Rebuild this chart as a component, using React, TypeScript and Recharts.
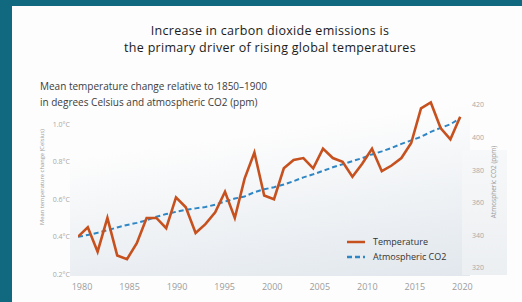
import React from "react";
import { LineChart, Line, XAxis, YAxis, Legend } from "recharts";

const years = [
  1980, 1981, 1982, 1983, 1984, 1985, 1986, 1987, 1988, 1989,
  1990, 1991, 1992, 1993, 1994, 1995, 1996, 1997, 1998, 1999,
  2000, 2001, 2002, 2003, 2004, 2005, 2006, 2007, 2008, 2009,
  2010, 2011, 2012, 2013, 2014, 2015, 2016, 2017, 2018, 2019,
];

// mean temperature change vs 1850-1900, °C
const temperature = [
  0.40, 0.45, 0.32, 0.50, 0.30, 0.28, 0.365, 0.50, 0.50, 0.445,
  0.61, 0.557, 0.42, 0.467, 0.53, 0.64, 0.50, 0.71, 0.85, 0.62,
  0.60, 0.765, 0.81, 0.82, 0.765, 0.87, 0.82, 0.80, 0.72, 0.79,
  0.87, 0.75, 0.78, 0.82, 0.90, 1.085, 1.117, 0.98, 0.92, 1.04,
];

// atmospheric CO2, ppm
const co2 = [
  339.0, 340.2, 341.5, 343.1, 344.8, 346.3, 347.6, 349.2, 351.4, 353.0,
  354.4, 355.6, 356.5, 357.3, 358.8, 360.7, 362.5, 363.8, 366.4, 368.2,
  369.5, 371.1, 373.2, 375.5, 377.4, 379.5, 381.7, 383.6, 385.5, 387.3,
  389.6, 391.5, 393.6, 396.1, 398.2, 400.4, 403.4, 405.9, 408.1, 411.8,
];

const yearTicks = [1980, 1985, 1990, 1995, 2000, 2005, 2010, 2015, 2020];
const tempTicks = [0.2, 0.4, 0.6, 0.8, 1.0];
const co2Ticks = [320, 340, 360, 380, 400, 420];

const TEMP_COLOR = "#c7511e";
const CO2_COLOR = "#2f86c4";
const FONT = "'Open Sans', 'DejaVu Sans', sans-serif";

const chartData = years.map((year, i) => ({
  year,
  temperature: temperature[i],
  co2: co2[i],
}));

function LegendBox() {
  const rows = [
    { label: "Temperature", color: TEMP_COLOR, dash: undefined },
    { label: "Atmospheric CO2", color: CO2_COLOR, dash: "5 3" },
  ];
  return (
    <div style={{ fontFamily: FONT, fontSize: 9, color: "#333" }}>
      {rows.map((r) => (
        <div
          key={r.label}
          style={{ display: "flex", alignItems: "center", height: 15 }}
        >
          <svg width={20} height={4} style={{ marginRight: 7 }}>
            <line
              x1={1}
              y1={2}
              x2={19}
              y2={2}
              stroke={r.color}
              strokeWidth={2.5}
              strokeDasharray={r.dash}
            />
          </svg>
          <span>{r.label}</span>
        </div>
      ))}
    </div>
  );
}

export default function App() {
  return (
    <div
      style={{
        position: "fixed",
        left: 0,
        top: 0,
        width: 522,
        height: 302,
        background: "#10697f",
        overflow: "hidden",
        fontFamily: FONT,
      }}
    >
      {/* white card */}
      <div
        style={{
          position: "absolute",
          left: 12,
          top: 6,
          width: 510,
          height: 296,
          background: "#fdfdfd",
        }}
      />
      {/* plot backdrop */}
      <div
        style={{
          position: "absolute",
          left: 70,
          top: 100,
          width: 400,
          height: 176,
          background:
            "linear-gradient(172deg, rgba(255,255,255,0) 25%, #e1e7ed 100%)",
        }}
      />
      <div
        style={{
          position: "absolute",
          left: 462,
          top: 150,
          width: 45,
          height: 125,
          background: "linear-gradient(to bottom, #f7f8f9, #eceff2)",
        }}
      />

      <div
        style={{
          position: "absolute",
          left: 12,
          top: 22,
          width: 516,
          textAlign: "center",
          fontSize: 12.5,
          letterSpacing: 0.3,
          lineHeight: "17px",
          fontWeight: 500,
          color: "#1b1b1b",
        }}
      >
        <div>Increase in carbon dioxide emissions is</div>
        <div>the primary driver of rising global temperatures</div>
      </div>

      <div
        style={{
          position: "absolute",
          left: 40,
          top: 78,
          fontSize: 10,
          lineHeight: "16px",
          color: "#3c3c3c",
          whiteSpace: "nowrap",
        }}
      >
        <div>Mean temperature change relative to 1850–1900</div>
        <div>in degrees Celsius and atmospheric CO2 (ppm)</div>
      </div>

      <div
        style={{
          position: "absolute",
          left: 42,
          top: 177,
          transform: "translate(-50%, -50%) rotate(-90deg)",
          fontSize: 5.8,
          color: "#9a9a9a",
          whiteSpace: "nowrap",
        }}
      >
        Mean temperature change (Celsius)
      </div>
      <div
        style={{
          position: "absolute",
          left: 493,
          top: 182,
          transform: "translate(-50%, -50%) rotate(-90deg)",
          fontSize: 6.5,
          color: "#9a9a9a",
          whiteSpace: "nowrap",
        }}
      >
        Atmospheric CO2 (ppm)
      </div>

      <div style={{ position: "absolute", left: 0, top: 0 }}>
        <LineChart
          width={522}
          height={302}
          data={chartData}
          margin={{ top: 100, right: 12, bottom: 2, left: 0 }}
        >
          <XAxis
            xAxisId="yr"
            dataKey="year"
            type="number"
            domain={[1980, 2020]}
            allowDataOverflow
            hide
          />
          <XAxis
            xAxisId="lbl"
            dataKey="year"
            type="number"
            domain={[1979.58, 2020.8]}
            allowDataOverflow
            ticks={yearTicks}
            interval={0}
            height={24}
            axisLine={false}
            tickLine={false}
            tickSize={5}
            tickMargin={3}
            tick={{ fontSize: 9, fill: "#9c9c9c", fontFamily: FONT }}
          />
          <YAxis
            yAxisId="temp"
            orientation="left"
            type="number"
            domain={[0.19, 1.13]}
            allowDataOverflow
            ticks={tempTicks}
            width={78}
            axisLine={false}
            tickLine={false}
            tickSize={5}
            tickMargin={3}
            tickFormatter={(v: number) => `${v.toFixed(1)}°C`}
            tick={{ fontSize: 7, fill: "#a8a8a8", fontFamily: FONT }}
          />
          <YAxis
            yAxisId="co2"
            orientation="right"
            type="number"
            domain={[315, 423]}
            allowDataOverflow
            ticks={co2Ticks}
            width={40}
            axisLine={false}
            tickLine={false}
            tickSize={0}
            tickMargin={2}
            tick={{ fontSize: 7, fill: "#a8a8a8", fontFamily: FONT }}
          />
          <Legend
            layout="vertical"
            verticalAlign="middle"
            align="center"
            wrapperStyle={{ position: "absolute", left: 346, top: 234, width: 120 }}
            content={() => <LegendBox />}
          />
          <Line
            xAxisId="yr"
            yAxisId="co2"
            dataKey="co2"
            stroke={CO2_COLOR}
            strokeWidth={2}
            strokeDasharray="5 3"
            dot={false}
            isAnimationActive={false}
          />
          <Line
            xAxisId="yr"
            yAxisId="temp"
            dataKey="temperature"
            stroke={TEMP_COLOR}
            strokeWidth={2.6}
            strokeLinejoin="miter"
            dot={false}
            isAnimationActive={false}
          />
        </LineChart>
      </div>
    </div>
  );
}
